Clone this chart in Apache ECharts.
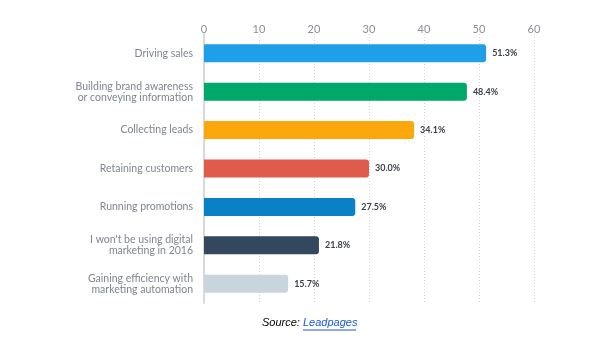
<!DOCTYPE html>
<html><head><meta charset="utf-8">
<script src="https://cdn.jsdelivr.net/npm/echarts@6/dist/echarts.min.js"></script>
<style>html,body{margin:0;padding:0;background:#fff}#c{width:616px;height:343px}</style>
</head><body><div id="c"></div>
<script>
const categories = [
  "Driving sales",
  "Building brand awareness\nor conveying information",
  "Collecting leads",
  "Retaining customers",
  "Running promotions",
  "I won't be using digital\nmarketing in 2016",
  "Gaining efficiency with\nmarketing automation"
];
// bar lengths as drawn in the picture
const values = [51.3, 47.8, 38.2, 30.0, 27.5, 20.9, 15.3];
// value labels as printed in the picture
const valueLabels = ["51.3%", "48.4%", "34.1%", "30.0%", "27.5%", "21.8%", "15.7%"];
const colors = ["#1e9fe8", "#00a86b", "#fca80c", "#e05b4b", "#0a81c7", "#33475e", "#c9d5dc"];
const tickLabels = [0, 10, 20, 30, 40, 50, 60];

const chart = echarts.init(document.getElementById('c'));
chart.setOption({
  animation: false,
  grid: { left: 204, right: 82, top: 34, height: 269, containLabel: false },
  xAxis: {
    type: 'value', position: 'top', min: 0, max: 60, interval: 10,
    axisLine: { show: false }, axisTick: { show: false },
    axisLabel: { color: '#8a8f96', fontSize: 11, fontFamily: 'Lato', margin: -1,
      formatter: v => tickLabels.includes(v) ? String(v) : '' },
    splitLine: { show: true, lineStyle: { color: '#d6d6d6', type: [1, 2], width: 1 } }
  },
  yAxis: {
    type: 'category', data: categories, inverse: true,
    axisLine: { show: true, lineStyle: { color: '#d9d9d9', width: 2 } },
    axisTick: { show: false },
    axisLabel: { color: '#7f8590', fontSize: 10.5, fontFamily: 'Lato', margin: 11, lineHeight: 11, align: 'right' }
  },
  series: [{
    type: 'bar', barWidth: 18,
    data: values.map((v, i) => ({ value: v, itemStyle: { color: colors[i], borderRadius: [0, 3, 3, 0] } })),
    label: { show: true, position: 'right', distance: 6, color: '#3a3f48', fontSize: 9, fontWeight: 'bold', fontFamily: 'Lato',
      formatter: p => valueLabels[p.dataIndex] }
  }],
  graphic: [
    { type: 'text', left: 262, top: 317, style: {
      text: '{a|Source: }{b|Leadpages}',
      rich: { a: { fontStyle: 'italic', fontSize: 11, fill: '#000', fontFamily: 'Liberation Sans' },
              b: { fontStyle: 'italic', fontSize: 11, fill: '#1a56db', fontFamily: 'Liberation Sans' } } } },
    { type: 'line', shape: { x1: 303, y1: 330, x2: 356, y2: 330 }, style: { stroke: '#1a56db', lineWidth: 1 } }
  ]
});
</script></body></html>
